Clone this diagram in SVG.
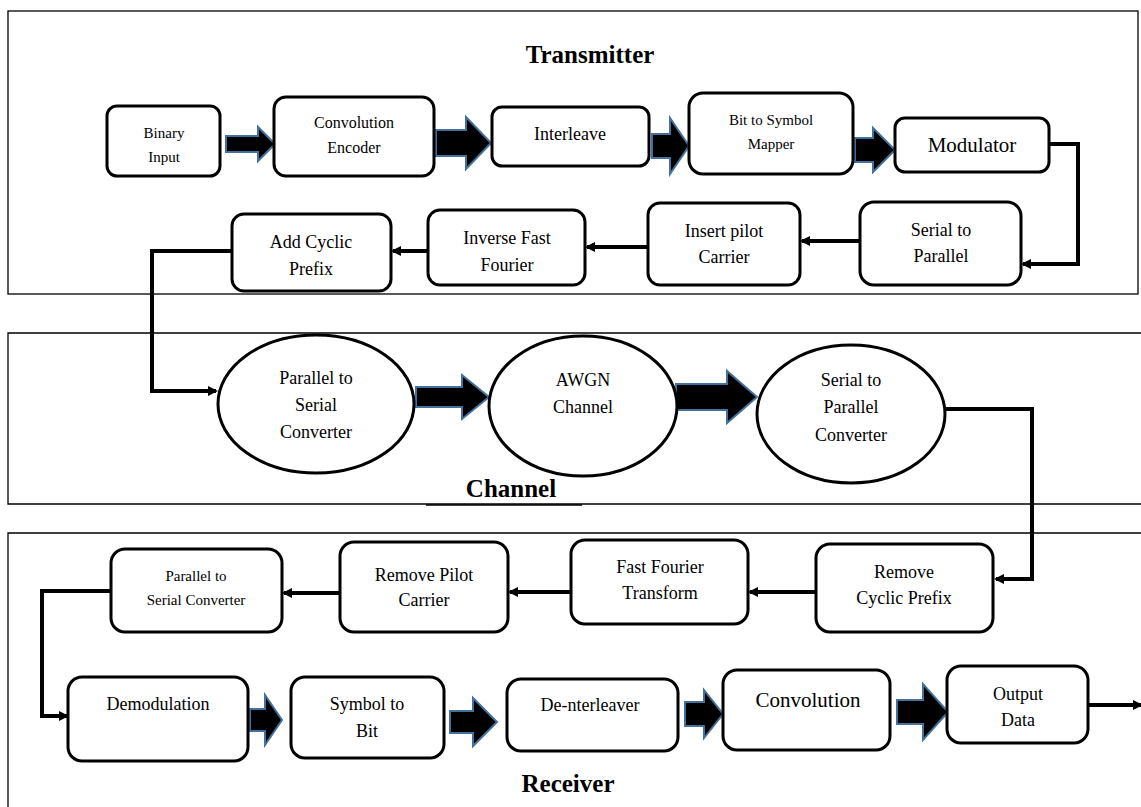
<svg xmlns="http://www.w3.org/2000/svg" width="1141" height="807" viewBox="0 0 1141 807">
<defs>
<marker id="ah" markerWidth="10" markerHeight="10" refX="8" refY="5" orient="auto" markerUnits="userSpaceOnUse" viewBox="0 0 10 10">
<path d="M0,0 L10,5 L0,10 z" fill="#000"/>
</marker>
<style>
.frame{fill:none;stroke:#000;stroke-width:1.3}
.box{fill:#fff;stroke:#000;stroke-width:3}
.ell{fill:#fff;stroke:#000;stroke-width:3}
.t{font-family:"Liberation Serif","Times New Roman",serif;fill:#000;text-anchor:middle}
.h{font-family:"Liberation Serif","Times New Roman",serif;font-weight:bold;font-size:25px;fill:#000;text-anchor:middle}
.ba{fill:#000;stroke:#41719C;stroke-width:2;stroke-linejoin:miter}
.ln{fill:none;stroke:#000;stroke-width:4;marker-end:url(#ah)}
</style>
</defs>
<rect width="1141" height="807" fill="#fff"/>
<g id="frames">
<rect class="frame" x="8" y="11" width="1130" height="283"/>
<path class="frame" d="M1141,333 H8 V504 H1141"/>
<line x1="426" y1="505" x2="582" y2="505" stroke="#000" stroke-width="1.5"/>
<path class="frame" d="M1141,533 H8 V807"/>
<text class="h" x="590" y="63">Transmitter</text>
<text class="h" x="511" y="497">Channel</text>
<text class="h" x="568" y="792">Receiver</text>
</g>
<g id="connectors">
<polygon class="ba" points="226,136 258,136 258,127 275,144 258,161 258,152 226,152"/>
<polygon class="ba" points="436,130 466,130 466,117 491,143 466,169 466,156 436,156"/>
<polygon class="ba" points="652,134 670,134 670,118 689,146 670,174 670,158 652,158"/>
<polygon class="ba" points="855,138 873,138 873,128 895,150 873,172 873,162 855,162"/>
<polygon class="ba" points="416,387 462,387 462,375 489,397 462,419 462,407 416,407"/>
<polygon class="ba" points="676,384 727,384 727,371 757,397 727,423 727,410 676,410"/>
<polygon class="ba" points="250,709 265,709 265,695 282,720 265,745 265,731 250,731"/>
<polygon class="ba" points="450,711 473,711 473,698 497,722 473,746 473,733 450,733"/>
<polygon class="ba" points="685,702 704,702 704,690 723,714 704,738 704,726 685,726"/>
<polygon class="ba" points="897,700 923,700 923,684 948,712 923,740 923,724 897,724"/>
<path class="ln" d="M1049,144 H1078 V264 H1023"/>
<path class="ln" d="M860,241 H802"/>
<path class="ln" d="M648,247 H587"/>
<path class="ln" d="M428,251 H393"/>
<path class="ln" d="M232,251 H152 V391 H216"/>
<path class="ln" d="M945,409 H1032 V579 H996"/>
<path class="ln" d="M816,592 H750"/>
<path class="ln" d="M571,592 H510"/>
<path class="ln" d="M340,593 H284"/>
<path class="ln" d="M111,591 H42 V716 H67"/>
<path class="ln" d="M1088,705 H1141"/>
</g>
<g id="binary-input"><rect class="box" x="107" y="106" width="113" height="70" rx="10"/><text class="t" font-size="15" x="164" y="138">Binary</text><text class="t" font-size="15" x="164" y="162">Input</text></g>
<g id="conv-encoder"><rect class="box" x="274" y="97" width="160" height="79" rx="12"/><text class="t" font-size="16" x="354" y="128">Convolution</text><text class="t" font-size="16" x="354" y="153">Encoder</text></g>
<g id="interleave"><rect class="box" x="492" y="107" width="157" height="59" rx="10"/><text class="t" font-size="18" x="570" y="140">Interleave</text></g>
<g id="bit-symbol"><rect class="box" x="689" y="93" width="164" height="81" rx="14"/><text class="t" font-size="15" x="771" y="125">Bit to Symbol</text><text class="t" font-size="15" x="771" y="149">Mapper</text></g>
<g id="modulator"><rect class="box" x="895" y="118" width="154" height="54" rx="10"/><text class="t" font-size="21" x="972" y="152">Modulator</text></g>
<g id="serial-parallel"><rect class="box" x="860" y="202" width="161" height="83" rx="14"/><text class="t" font-size="18" x="941" y="236">Serial to</text><text class="t" font-size="18" x="941" y="262">Parallel</text></g>
<g id="insert-pilot"><rect class="box" x="648" y="203" width="152" height="82" rx="12"/><text class="t" font-size="18" x="724" y="237">Insert pilot</text><text class="t" font-size="18" x="724" y="263">Carrier</text></g>
<g id="ifft"><rect class="box" x="428" y="210" width="157" height="75" rx="12"/><text class="t" font-size="18" x="507" y="244">Inverse Fast</text><text class="t" font-size="18" x="507" y="271">Fourier</text></g>
<g id="add-cp"><rect class="box" x="232" y="214" width="159" height="77" rx="12"/><text class="t" font-size="18" x="311" y="248">Add Cyclic</text><text class="t" font-size="18" x="311" y="275">Prefix</text></g>
<g id="p2s-channel"><ellipse class="ell" cx="316" cy="404" rx="98" ry="69"/><text class="t" font-size="18" x="316" y="384">Parallel to</text><text class="t" font-size="18" x="316" y="411">Serial</text><text class="t" font-size="18" x="316" y="438">Converter</text></g>
<g id="awgn"><ellipse class="ell" cx="583" cy="406" rx="94" ry="70"/><text class="t" font-size="18" x="583" y="386">AWGN</text><text class="t" font-size="18" x="583" y="413">Channel</text></g>
<g id="s2p-channel"><ellipse class="ell" cx="851" cy="414" rx="94" ry="69"/><text class="t" font-size="18" x="851" y="386">Serial to</text><text class="t" font-size="18" x="851" y="413">Parallel</text><text class="t" font-size="18" x="851" y="441">Converter</text></g>
<g id="remove-cp"><rect class="box" x="816" y="544" width="177" height="88" rx="14"/><text class="t" font-size="18" x="904" y="578">Remove</text><text class="t" font-size="18" x="904" y="604">Cyclic Prefix</text></g>
<g id="fft"><rect class="box" x="571" y="540" width="177" height="84" rx="14"/><text class="t" font-size="18" x="660" y="573">Fast Fourier</text><text class="t" font-size="18" x="660" y="599">Transform</text></g>
<g id="remove-pilot"><rect class="box" x="340" y="542" width="168" height="90" rx="14"/><text class="t" font-size="18" x="424" y="581">Remove Pilot</text><text class="t" font-size="18" x="424" y="606">Carrier</text></g>
<g id="p2s-rx"><rect class="box" x="111" y="549" width="171" height="83" rx="14"/><text class="t" font-size="15" x="196" y="581">Parallel to</text><text class="t" font-size="15" x="196" y="605">Serial Converter</text></g>
<g id="demod"><rect class="box" x="68" y="677" width="180" height="84" rx="14"/><text class="t" font-size="18" x="158" y="710">Demodulation</text></g>
<g id="symbol-bit"><rect class="box" x="291" y="677" width="153" height="81" rx="14"/><text class="t" font-size="18" x="367" y="710">Symbol to</text><text class="t" font-size="18" x="367" y="737">Bit</text></g>
<g id="deinterleaver"><rect class="box" x="507" y="679" width="171" height="72" rx="14"/><text class="t" font-size="18" x="590" y="711">De-nterleaver</text></g>
<g id="convolution"><rect class="box" x="723" y="670" width="167" height="80" rx="14"/><text class="t" font-size="21" x="808" y="707">Convolution</text></g>
<g id="output-data"><rect class="box" x="947" y="666" width="141" height="77" rx="14"/><text class="t" font-size="18" x="1018" y="700">Output</text><text class="t" font-size="18" x="1018" y="726">Data</text></g>
</svg>
